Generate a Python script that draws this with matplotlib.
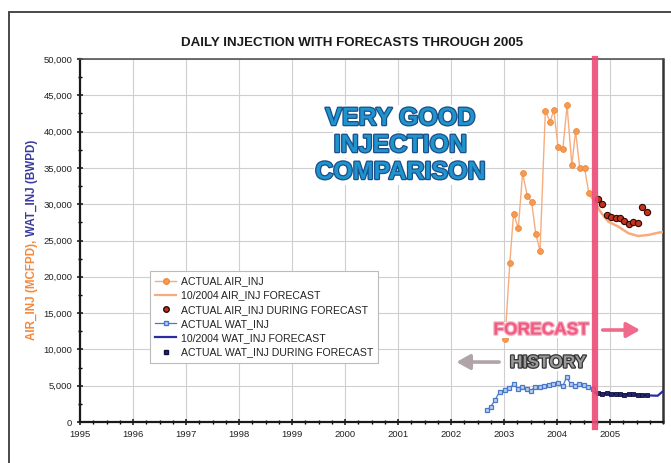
import matplotlib
matplotlib.use("Agg")
import matplotlib.pyplot as plt
import matplotlib.patheffects as pe
from matplotlib.lines import Line2D
from matplotlib.patches import Rectangle
from matplotlib.ticker import MultipleLocator, FuncFormatter
from matplotlib import font_manager

names = {f.name for f in font_manager.fontManager.ttflist}
NARROW = 'Liberation Sans Narrow' if 'Liberation Sans Narrow' in names else 'Liberation Sans'
plt.rcParams['font.family'] = ['Liberation Sans', 'DejaVu Sans']

# ---------------- data ----------------
air_years = [2003.02, 2003.11, 2003.18, 2003.27, 2003.35, 2003.44, 2003.52, 2003.60, 2003.68,
             2003.78, 2003.87, 2003.94, 2004.02, 2004.11, 2004.19, 2004.28, 2004.35, 2004.43,
             2004.52, 2004.60]
air_actual = [11500, 21900, 28700, 26700, 34250, 31150, 30340, 25900, 23550,
              42840, 41370, 42980, 37920, 37600, 43610, 35360, 40080, 34990,
              34990, 31500]

air_fc_years = [2004.62, 2004.72, 2004.78, 2004.84, 2004.97, 2005.16, 2005.35, 2005.53,
                2005.72, 2005.91, 2006.04]
air_forecast = [31300, 30300, 29430, 28750, 27590, 26900, 25990, 25620, 25760, 26070, 26210]

air_dur_years = [2004.77, 2004.85, 2004.94, 2005.02, 2005.11, 2005.19, 2005.27, 2005.35,
                 2005.43, 2005.52, 2005.61, 2005.69]
air_during = [30720, 29980, 28510, 28190, 28140, 28050, 27730, 27270, 27590, 27450, 29570, 28970]

wat_years = [2002.68, 2002.75, 2002.83, 2002.92, 2003.02, 2003.10, 2003.19, 2003.26, 2003.34,
             2003.43, 2003.50, 2003.58, 2003.67, 2003.75, 2003.84, 2003.93, 2004.02, 2004.11,
             2004.18, 2004.26, 2004.34, 2004.42, 2004.51, 2004.59, 2004.67]
wat_actual = [1650, 2110, 3030, 4170, 4410, 4640, 5230, 4500, 4870,
              4500, 4270, 4780, 4870, 4960, 5100, 5230, 5330, 4960,
              6150, 5230, 4960, 5230, 5100, 4870, 4500]

wat_fc_years = [2004.72, 2004.85, 2005.0, 2005.2, 2005.4, 2005.6, 2005.75, 2005.9, 2006.0]
wat_forecast = [4000, 3950, 3900, 3850, 3800, 3750, 3650, 3620, 4250]

wat_dur_years = [2004.77, 2004.85, 2004.94, 2005.02, 2005.11, 2005.19, 2005.27, 2005.35,
                 2005.43, 2005.52, 2005.61, 2005.69]
wat_during = [3950, 3900, 3950, 3850, 3900, 3800, 3750, 3850, 3800, 3750, 3700, 3700]

forecast_start = 2004.72
year_ticks = list(range(1995, 2006))
y_ticks = list(range(0, 50001, 5000))

legend_labels = ["ACTUAL AIR_INJ", "10/2004 AIR_INJ FORECAST", "ACTUAL AIR_INJ DURING FORECAST",
                 "ACTUAL WAT_INJ", "10/2004 WAT_INJ FORECAST", "ACTUAL WAT_INJ DURING FORECAST"]

# ---------------- figure ----------------
W, H = 671, 463
fig = plt.figure(figsize=(W / 100, H / 100), dpi=100)
fig.patch.set_facecolor('white')

# outer frame
fig.patches.append(Rectangle((9 / W, -0.2), 1.5, 1.2 - 12 / H, transform=fig.transFigure,
                             fill=False, edgecolor='#3a3a3a', linewidth=1.3, zorder=0))

ax = fig.add_axes([80 / W, 1 - 422 / H, 583 / W, 363 / H])
ax.set_xlim(1995, 2006)
ax.set_ylim(0, 50000)

ORANGE = '#f59a55'
ORANGE_L = '#f6ad7e'
BLUE = '#4a78c8'
NAVY = '#23236e'

ax.set_xticks(year_ticks)
ax.xaxis.set_minor_locator(MultipleLocator(0.25))
ax.set_yticks(y_ticks)
ax.yaxis.set_minor_locator(MultipleLocator(2500))
ax.yaxis.set_major_formatter(FuncFormatter(lambda v, p: f"{int(v):,}"))
ax.tick_params(axis='both', which='major', direction='inout', length=5, width=1.2,
               labelsize=6.8, colors='#222222', pad=3)
ax.tick_params(axis='both', which='minor', direction='inout', length=3, width=1.0)
ax.grid(True, which='major', color='#cfcfcf', linewidth=0.8)
ax.set_axisbelow(True)
for s in ['left', 'bottom']:
    ax.spines[s].set_linewidth(1.6)
    ax.spines[s].set_color('#1a1a1a')
ax.spines['right'].set_linewidth(1.8)
ax.spines['right'].set_color('#333333')
ax.spines['top'].set_linewidth(1.2)
ax.spines['top'].set_color('#555555')

# series
ax.plot(air_years, air_actual, '-', color=ORANGE_L, linewidth=1.0, marker='o', markersize=4.2,
        markerfacecolor=ORANGE, markeredgecolor='#f08a3a', markeredgewidth=0.6, zorder=4)
ax.plot(air_fc_years, air_forecast, '-', color=ORANGE_L, linewidth=1.8, zorder=3)
ax.plot(air_dur_years, air_during, 'o', markersize=4.5, markerfacecolor='#c8301c',
        markeredgecolor='#2a0a05', markeredgewidth=0.8, zorder=5)
ax.plot(wat_years, wat_actual, '-', color=BLUE, linewidth=0.9, marker='s', markersize=3.4,
        markerfacecolor='#b9d0f2', markeredgecolor=BLUE, markeredgewidth=0.9, zorder=4)
ax.plot(wat_fc_years, wat_forecast, '-', color='#2c2ca0', linewidth=1.6, zorder=3)
ax.plot(wat_dur_years, wat_during, 's', markersize=3.2, markerfacecolor=NAVY,
        markeredgecolor='#101040', markeredgewidth=0.6, zorder=5)

# forecast divider
ax.axvline(forecast_start, ymin=-0.015, ymax=1.0, color='#ec4a74', linewidth=4.5,
           alpha=0.9, zorder=6, clip_on=False)

# legend
handles = [
    Line2D([], [], color=ORANGE_L, lw=1, marker='o', ms=4, mfc=ORANGE, mec='#f08a3a'),
    Line2D([], [], color=ORANGE_L, lw=1.6),
    Line2D([], [], ls='none', marker='o', ms=4, mfc='#c8301c', mec='#2a0a05'),
    Line2D([], [], color=BLUE, lw=0.9, marker='s', ms=3.5, mfc='#b9d0f2', mec=BLUE),
    Line2D([], [], color='#2c2ca0', lw=1.6),
    Line2D([], [], ls='none', marker='s', ms=3.5, mfc=NAVY, mec='#101040'),
]
leg = fig.legend(handles, legend_labels, loc='upper left',
                 bbox_to_anchor=(150 / W, 1 - 271 / H), fontsize=7.6, frameon=True,
                 fancybox=False, edgecolor='#bbbbbb', framealpha=1, handlelength=2.0,
                 handletextpad=0.4, labelspacing=0.4, borderpad=0.5, borderaxespad=0)
leg.get_frame().set_linewidth(0.8)
for t in leg.get_texts():
    t.set_color('#222222')

# title
fig.text(352 / W, 1 - 43 / H, "DAILY INJECTION WITH FORECASTS THROUGH 2005", ha='center',
         va='center', fontsize=9.6, fontweight='bold', color='#1a1a1a')

# y label (two colours, placed end to end)
t1 = fig.text(32 / W, 1 - 340 / H, "AIR_INJ (MCFPD),", rotation=90, ha='center', va='bottom',
              fontsize=8.4, fontweight='bold', color='#f5883a')
fig.canvas.draw()
bb = t1.get_window_extent(fig.canvas.get_renderer())
fig.text(32 / W, (bb.y1 + 4) / H, "WAT_INJ (BWPD)", rotation=90, ha='center', va='bottom',
         fontsize=8.4, fontweight='bold', color='#3a3aa0')

# big comparison note
big_fx = [pe.Stroke(linewidth=1.8, foreground='#1b4e8a'), pe.Normal()]
for txt, yv in [("VERY GOOD", 41870), ("INJECTION", 38150), ("COMPARISON", 34440)]:
    ax.text(2001.04, yv, txt, ha='center', va='center', fontsize=18, fontweight='bold',
            family=NARROW, color='#1e93cc', path_effects=big_fx, zorder=7,
            bbox=dict(facecolor='white', edgecolor='none', pad=0.5))

ax.text(2003.70, 12670, "FORECAST", ha='center', va='center', fontsize=12.5, fontweight='bold',
        family=NARROW, color='#ef5a80',
        path_effects=[pe.Stroke(linewidth=1.8, foreground='#f7a8bc'), pe.Normal()], zorder=7,
        bbox=dict(facecolor='white', edgecolor='none', pad=0.5))
ax.text(2003.83, 8130, "HISTORY", ha='center', va='center', fontsize=12.5, fontweight='bold',
        family=NARROW, color='#9a9a9a',
        path_effects=[pe.Stroke(linewidth=1.8, foreground='#333333'), pe.Normal()], zorder=7,
        bbox=dict(facecolor='white', edgecolor='none', pad=0.5))

ax.annotate("", xy=(2005.62, 12670), xytext=(2004.81, 12670),
            arrowprops=dict(arrowstyle='-|>,head_length=0.8,head_width=0.45',
                            color='#ef6a8c', lw=2.6), zorder=7)
ax.annotate("", xy=(2002.05, 8260), xytext=(2002.96, 8260),
            arrowprops=dict(arrowstyle='-|>,head_length=0.8,head_width=0.45',
                            color='#b0a4a8', lw=2.6), zorder=7)

fig.savefig("out.png", dpi=100, facecolor='white')
